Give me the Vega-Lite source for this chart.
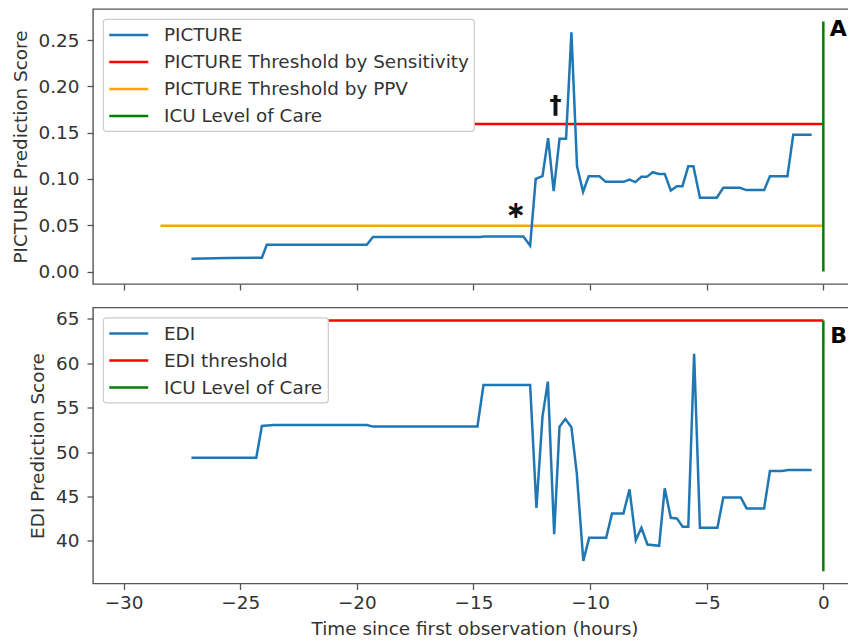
{
  "$schema": "https://vega.github.io/schema/vega-lite/v6.json",
  "padding": {"left": 10, "top": 8, "right": 0, "bottom": 0},
  "background": "white",
  "spacing": 23.5,
  "bounds": "flush",
  "datasets": {
    "picture": [
      {"series": "PICTURE", "t": -27.09, "v": 0.0139},
      {"series": "PICTURE", "t": -25.57, "v": 0.0145},
      {"series": "PICTURE", "t": -24.07, "v": 0.0148},
      {"series": "PICTURE", "t": -23.86, "v": 0.0289},
      {"series": "PICTURE", "t": -19.57, "v": 0.0289},
      {"series": "PICTURE", "t": -19.31, "v": 0.0372},
      {"series": "PICTURE", "t": -14.71, "v": 0.0372},
      {"series": "PICTURE", "t": -14.57, "v": 0.0378},
      {"series": "PICTURE", "t": -12.86, "v": 0.0378},
      {"series": "PICTURE", "t": -12.57, "v": 0.0279},
      {"series": "PICTURE", "t": -12.33, "v": 0.1},
      {"series": "PICTURE", "t": -12.04, "v": 0.1029},
      {"series": "PICTURE", "t": -11.8, "v": 0.144},
      {"series": "PICTURE", "t": -11.56, "v": 0.0868},
      {"series": "PICTURE", "t": -11.31, "v": 0.1433},
      {"series": "PICTURE", "t": -11.03, "v": 0.1433},
      {"series": "PICTURE", "t": -10.8, "v": 0.2583},
      {"series": "PICTURE", "t": -10.56, "v": 0.1136},
      {"series": "PICTURE", "t": -10.3, "v": 0.0861},
      {"series": "PICTURE", "t": -10.06, "v": 0.1029},
      {"series": "PICTURE", "t": -9.6, "v": 0.1029},
      {"series": "PICTURE", "t": -9.33, "v": 0.0968},
      {"series": "PICTURE", "t": -8.57, "v": 0.0968},
      {"series": "PICTURE", "t": -8.31, "v": 0.0993},
      {"series": "PICTURE", "t": -8.06, "v": 0.0965},
      {"series": "PICTURE", "t": -7.8, "v": 0.1022},
      {"series": "PICTURE", "t": -7.57, "v": 0.1022},
      {"series": "PICTURE", "t": -7.31, "v": 0.1072},
      {"series": "PICTURE", "t": -7.06, "v": 0.1054},
      {"series": "PICTURE", "t": -6.8, "v": 0.1054},
      {"series": "PICTURE", "t": -6.54, "v": 0.0875},
      {"series": "PICTURE", "t": -6.28, "v": 0.0922},
      {"series": "PICTURE", "t": -6.04, "v": 0.0922},
      {"series": "PICTURE", "t": -5.79, "v": 0.1136},
      {"series": "PICTURE", "t": -5.57, "v": 0.1136},
      {"series": "PICTURE", "t": -5.29, "v": 0.0797},
      {"series": "PICTURE", "t": -4.57, "v": 0.0797},
      {"series": "PICTURE", "t": -4.29, "v": 0.0904},
      {"series": "PICTURE", "t": -3.57, "v": 0.0904},
      {"series": "PICTURE", "t": -3.31, "v": 0.0879},
      {"series": "PICTURE", "t": -2.54, "v": 0.0879},
      {"series": "PICTURE", "t": -2.29, "v": 0.1029},
      {"series": "PICTURE", "t": -1.54, "v": 0.1029},
      {"series": "PICTURE", "t": -1.29, "v": 0.1476},
      {"series": "PICTURE", "t": -0.5, "v": 0.1476}
    ],
    "pictureThresholds": [
      {"series": "PICTURE Threshold by Sensitivity", "t": -28.42, "t2": 0, "v": 0.1594},
      {"series": "PICTURE Threshold by PPV", "t": -28.42, "t2": 0, "v": 0.0493}
    ],
    "pictureIcu": [
      {"series": "ICU Level of Care", "t": 0, "v": 0, "v2": 0.27}
    ],
    "pictureMarks": [
      {"label": "∗", "t": -13.19, "v": 0.0654},
      {"label": "†", "t": -11.48, "v": 0.1792}
    ],
    "panelA": [{"label": "A", "t": 0.28, "v": 0.2548}],
    "edi": [
      {"series": "EDI", "t": -27.09, "v": 49.36},
      {"series": "EDI", "t": -24.31, "v": 49.36},
      {"series": "EDI", "t": -24.07, "v": 52.94},
      {"series": "EDI", "t": -23.57, "v": 53.05},
      {"series": "EDI", "t": -19.57, "v": 53.05},
      {"series": "EDI", "t": -19.31, "v": 52.86},
      {"series": "EDI", "t": -14.83, "v": 52.86},
      {"series": "EDI", "t": -14.57, "v": 57.55},
      {"series": "EDI", "t": -12.57, "v": 57.55},
      {"series": "EDI", "t": -12.3, "v": 43.72},
      {"series": "EDI", "t": -12.04, "v": 53.98},
      {"series": "EDI", "t": -11.81, "v": 57.93},
      {"series": "EDI", "t": -11.54, "v": 40.76},
      {"series": "EDI", "t": -11.31, "v": 52.86},
      {"series": "EDI", "t": -11.06, "v": 53.72},
      {"series": "EDI", "t": -10.8, "v": 52.79},
      {"series": "EDI", "t": -10.57, "v": 47.6},
      {"series": "EDI", "t": -10.29, "v": 37.74},
      {"series": "EDI", "t": -10.04, "v": 40.34},
      {"series": "EDI", "t": -9.31, "v": 40.34},
      {"series": "EDI", "t": -9.06, "v": 43.09},
      {"series": "EDI", "t": -8.57, "v": 43.09},
      {"series": "EDI", "t": -8.31, "v": 45.8},
      {"series": "EDI", "t": -8.04, "v": 40.08},
      {"series": "EDI", "t": -7.8, "v": 41.47},
      {"series": "EDI", "t": -7.54, "v": 39.59},
      {"series": "EDI", "t": -7.04, "v": 39.44},
      {"series": "EDI", "t": -6.8, "v": 45.91},
      {"series": "EDI", "t": -6.54, "v": 42.59},
      {"series": "EDI", "t": -6.28, "v": 42.53},
      {"series": "EDI", "t": -6.03, "v": 41.58},
      {"series": "EDI", "t": -5.79, "v": 41.58},
      {"series": "EDI", "t": -5.54, "v": 61.06},
      {"series": "EDI", "t": -5.29, "v": 41.47},
      {"series": "EDI", "t": -4.54, "v": 41.47},
      {"series": "EDI", "t": -4.29, "v": 44.89},
      {"series": "EDI", "t": -3.54, "v": 44.89},
      {"series": "EDI", "t": -3.29, "v": 43.65},
      {"series": "EDI", "t": -2.54, "v": 43.65},
      {"series": "EDI", "t": -2.29, "v": 47.86},
      {"series": "EDI", "t": -1.79, "v": 47.86},
      {"series": "EDI", "t": -1.5, "v": 47.97},
      {"series": "EDI", "t": -0.5, "v": 47.97}
    ],
    "ediThreshold": [
      {"series": "EDI threshold", "t": -28.42, "t2": 0, "v": 64.8}
    ],
    "ediIcu": [
      {"series": "ICU Level of Care", "t": 0, "v": 36.58, "v2": 64.8}
    ],
    "panelB": [{"label": "B", "t": 0.3, "v": 62.26}]
  },
  "vconcat": [
    {
      "width": 763,
      "height": 275,
      "layer": [
        {
          "data": {"name": "pictureThresholds"},
          "mark": {"type": "rule", "strokeWidth": 2.5},
          "encoding": {
            "x": {"field": "t", "type": "quantitative", "scale": {"domain": [-31.31, 1.4], "nice": false, "zero": false},
                  "axis": {"title": null, "labels": false, "values": [-30, -25, -20, -15, -10, -5, 0]}},
            "x2": {"field": "t2"},
            "y": {"field": "v", "type": "quantitative", "scale": {"domain": [-0.0135, 0.2835], "nice": false, "zero": false},
                  "axis": {"title": "PICTURE Prediction Score", "values": [0, 0.05, 0.1, 0.15, 0.2, 0.25], "format": ".2f", "labelPadding": 8, "titlePadding": 8}},
            "color": {"field": "series", "type": "nominal",
                      "scale": {"domain": ["PICTURE", "PICTURE Threshold by Sensitivity", "PICTURE Threshold by PPV", "ICU Level of Care"],
                                "range": ["#1f77b4", "#ff0000", "#ffa500", "#008000"]},
                      "legend": {"title": null, "offset": 9.5}}
          }
        },
        {
          "data": {"name": "pictureIcu"},
          "mark": {"type": "rule", "strokeWidth": 2.5},
          "encoding": {
            "x": {"field": "t", "type": "quantitative"},
            "y": {"field": "v", "type": "quantitative"},
            "y2": {"field": "v2"},
            "color": {"field": "series", "type": "nominal"}
          }
        },
        {
          "data": {"name": "picture"},
          "mark": {"type": "line", "strokeWidth": 2.5},
          "encoding": {
            "x": {"field": "t", "type": "quantitative"},
            "y": {"field": "v", "type": "quantitative"},
            "color": {"field": "series", "type": "nominal"}
          }
        },
        {
          "data": {"name": "pictureMarks"},
          "mark": {"type": "text", "font": "DejaVu Sans", "fontWeight": "bold", "fontSize": 24, "color": "#111", "baseline": "middle", "align": "center"},
          "encoding": {
            "x": {"field": "t", "type": "quantitative"},
            "y": {"field": "v", "type": "quantitative"},
            "text": {"field": "label"}
          }
        },
        {
          "data": {"name": "panelA"},
          "mark": {"type": "text", "font": "DejaVu Sans", "fontWeight": "bold", "fontSize": 22, "color": "#000", "baseline": "alphabetic", "align": "left"},
          "encoding": {
            "x": {"field": "t", "type": "quantitative"},
            "y": {"field": "v", "type": "quantitative"},
            "text": {"field": "label"}
          }
        }
      ]
    },
    {
      "width": 763,
      "height": 276,
      "layer": [
        {
          "data": {"name": "ediThreshold"},
          "mark": {"type": "rule", "strokeWidth": 2.5},
          "encoding": {
            "x": {"field": "t", "type": "quantitative", "scale": {"domain": [-31.31, 1.4], "nice": false, "zero": false},
                  "axis": {"title": "Time since first observation (hours)", "values": [-30, -25, -20, -15, -10, -5, 0], "format": "d", "labelPadding": 4, "titlePadding": 8}},
            "x2": {"field": "t2"},
            "y": {"field": "v", "type": "quantitative", "scale": {"domain": [35.2, 66.27], "nice": false, "zero": false},
                  "axis": {"title": "EDI Prediction Score", "values": [40, 45, 50, 55, 60, 65], "format": "d", "labelPadding": 8, "titlePadding": 8}},
            "color": {"field": "series", "type": "nominal",
                      "scale": {"domain": ["EDI", "EDI threshold", "ICU Level of Care"],
                                "range": ["#1f77b4", "#ff0000", "#008000"]},
                      "legend": {"title": null, "offset": 9.5}}
          }
        },
        {
          "data": {"name": "ediIcu"},
          "mark": {"type": "rule", "strokeWidth": 2.5},
          "encoding": {
            "x": {"field": "t", "type": "quantitative"},
            "y": {"field": "v", "type": "quantitative"},
            "y2": {"field": "v2"},
            "color": {"field": "series", "type": "nominal"}
          }
        },
        {
          "data": {"name": "edi"},
          "mark": {"type": "line", "strokeWidth": 2.5},
          "encoding": {
            "x": {"field": "t", "type": "quantitative"},
            "y": {"field": "v", "type": "quantitative"},
            "color": {"field": "series", "type": "nominal"}
          }
        },
        {
          "data": {"name": "panelB"},
          "mark": {"type": "text", "font": "DejaVu Sans", "fontWeight": "bold", "fontSize": 22, "color": "#000", "baseline": "alphabetic", "align": "left"},
          "encoding": {
            "x": {"field": "t", "type": "quantitative"},
            "y": {"field": "v", "type": "quantitative"},
            "text": {"field": "label"}
          }
        }
      ]
    }
  ],
  "resolve": {"scale": {"color": "independent"}},
  "config": {
    "font": "DejaVu Sans",
    "view": {"stroke": "#555555", "strokeWidth": 1.4},
    "axis": {
      "domain": false, "grid": false,
      "tickColor": "#555555", "tickSize": 6, "tickWidth": 1.3,
      "labelFont": "DejaVu Sans", "labelFontSize": 18.4, "labelColor": "#333333", "labelPadding": 6,
      "titleFont": "DejaVu Sans", "titleFontSize": 18.4, "titleFontWeight": "normal", "titleColor": "#333333", "titlePadding": 11
    },
    "legend": {
      "orient": "top-left",
      "fillColor": "#ffffff", "strokeColor": "#cccccc", "cornerRadius": 3, "strokeWidth": 1.2,
      "padding": 5, "rowPadding": 6,
      "labelFont": "DejaVu Sans", "labelFontSize": 18.4, "labelColor": "#333333", "labelOffset": 34, "labelLimit": 0,
      "symbolType": "M-1,0H3", "symbolSize": 380, "symbolStrokeWidth": 2.5
    }
  }
}
